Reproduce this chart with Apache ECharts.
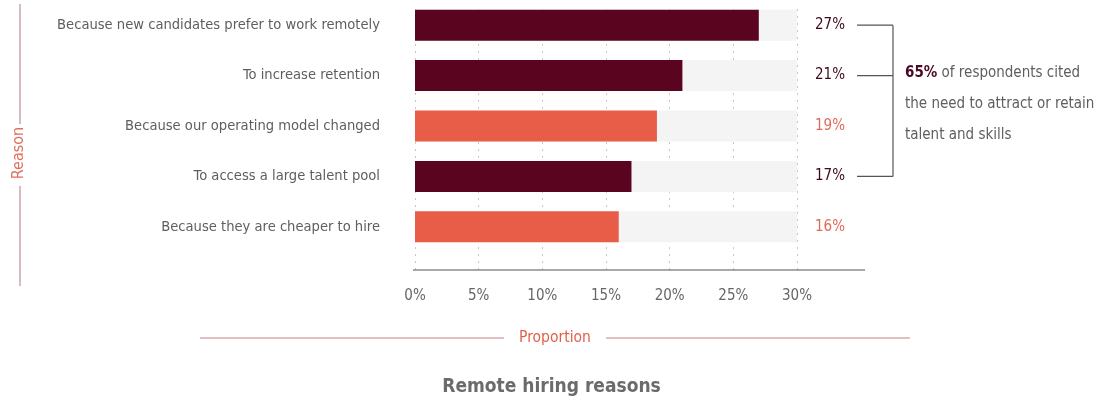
<!DOCTYPE html>
<html><head><meta charset="utf-8">
<script src="https://cdn.jsdelivr.net/npm/echarts@6/dist/echarts.min.js"></script>
<style>html,body{margin:0;padding:0;background:#fff}#c{width:1103px;height:406px}</style>
</head><body><div id="c"></div>
<script>
const categories = [
  'Because new candidates prefer to work remotely',
  'To increase retention',
  'Because our operating model changed',
  'To access a large talent pool',
  'Because they are cheaper to hire'
];
const values = [27, 21, 19, 17, 16];
const isTalent = [true, true, false, true, false];
const xTicks = [0, 5, 10, 15, 20, 25, 30];

const DARK = '#5a0420';
const ORANGE = '#e85d47';
const FONT = "'Liberation Sans Narrow','DejaVu Sans Condensed','Roboto Condensed',sans-serif";

const chart = echarts.init(document.getElementById('c'), null, {renderer: 'canvas'});
const option = {
  animation: false,
  textStyle: {fontFamily: FONT},
  title: {
    text: 'Remote hiring reasons', left: 'center', top: 373,
    textStyle: {fontFamily: FONT, fontSize: 19, fontWeight: 'bold', color: '#6b6b6b'}
  },
  grid: [
    {left: 415, right: 306, top: -1, bottom: 154, containLabel: false},
    {left: 415, right: 306, top: 9, bottom: 136, containLabel: false}
  ],
  xAxis: [
    {gridIndex: 0, type: 'value', min: 0, max: xTicks[xTicks.length - 1], interval: 5, show: false},
    {gridIndex: 1, type: 'value', min: 0, max: xTicks[xTicks.length - 1], interval: 5,
      axisLine: {show: false}, axisTick: {show: false},
      splitLine: {show: true, lineStyle: {color: '#c8c8c8', type: [2, 5], width: 1}},
      axisLabel: {margin: 19, fontFamily: FONT, fontSize: 15, color: '#666',
        formatter: v => xTicks.indexOf(v) >= 0 ? v + '%' : ''}
    }
  ],
  yAxis: [
    {gridIndex: 0, type: 'category', data: categories, inverse: true,
      axisLine: {show: false}, axisTick: {show: false},
      axisLabel: {margin: 35, fontFamily: FONT, fontSize: 14.6, color: '#5e5e5e'}
    },
    {gridIndex: 0, type: 'category', data: values.map(v => v + '%'), inverse: true, position: 'right',
      axisLine: {show: false}, axisTick: {show: false},
      axisLabel: {margin: 18, fontFamily: FONT, fontSize: 15,
        color: (val, idx) => isTalent[idx] ? '#3d0a1c' : '#e06a58'}
    },
    {gridIndex: 1, type: 'value', show: false, min: 0, max: 1}
  ],
  series: [{
    type: 'bar', xAxisIndex: 0, yAxisIndex: 0,
    barWidth: 31,
    showBackground: true,
    backgroundStyle: {color: '#f4f4f4'},
    data: values.map((v, i) => ({value: v, itemStyle: {color: isTalent[i] ? DARK : ORANGE}}))
  }]
};
chart.setOption(option);

// decorations computed from axes
const yOf = i => chart.convertToPixel({yAxisIndex: 0}, categories[i]);
const x0 = chart.convertToPixel({xAxisIndex: 1}, 0);
const xMax = chart.convertToPixel({xAxisIndex: 1}, 30);
const talentIdx = isTalent.map((t, i) => t ? i : -1).filter(i => i >= 0);
const ys = talentIdx.map(yOf);
const bx0 = xMax + 60, bx1 = xMax + 96;
const lineStyle = {stroke: '#555', lineWidth: 1.2};
const graphics = [];
ys.forEach(y => graphics.push({type: 'line', shape: {x1: bx0, y1: y, x2: bx1, y2: y}, style: lineStyle}));
graphics.push({type: 'line', shape: {x1: bx1, y1: ys[0], x2: bx1, y2: ys[ys.length - 1]}, style: lineStyle});
const total = talentIdx.reduce((s, i) => s + values[i], 0);
graphics.push({
  type: 'text', left: bx1 + 12, top: 66,
  style: {
    text: '{b|' + total + '%}{n| of respondents cited}\n{n|the need to attract or retain}\n{n|talent and skills}',
    rich: {
      b: {fontFamily: FONT, fontSize: 15, fontWeight: 'bold', fill: '#4a0a26', lineHeight: 31},
      n: {fontFamily: FONT, fontSize: 15, fill: '#5e5e5e', lineHeight: 31}
    }
  }
});
// extended x axis line
const axY = 270;
graphics.push({type: 'line', shape: {x1: x0 - 2, y1: axY, x2: xMax + 68, y2: axY}, style: {stroke: '#555', lineWidth: 1.2}});
// Proportion axis title
const pinkLine = {stroke: '#dcaaaa', lineWidth: 1.5};
graphics.push({type: 'line', shape: {x1: 200, y1: 338, x2: 504, y2: 338}, style: pinkLine});
graphics.push({type: 'line', shape: {x1: 606, y1: 338, x2: 910, y2: 338}, style: pinkLine});
graphics.push({type: 'text', x: 555, y: 338, style: {text: 'Proportion', fontFamily: FONT, fontSize: 15.5, fill: '#e0604c', align: 'center', verticalAlign: 'middle'}});
// Reason axis title
graphics.push({type: 'line', shape: {x1: 20, y1: 4, x2: 20, y2: 124}, style: {stroke: '#caa4ab', lineWidth: 1.5}});
graphics.push({type: 'line', shape: {x1: 20, y1: 186, x2: 20, y2: 286}, style: {stroke: '#caa4ab', lineWidth: 1.5}});
graphics.push({type: 'text', x: 19, y: 153, rotation: Math.PI / 2,
  style: {text: 'Reason', fontFamily: FONT, fontSize: 16, fill: '#e0705e', align: 'center', verticalAlign: 'middle'}});
chart.setOption({graphic: graphics});
</script>
</body></html>
